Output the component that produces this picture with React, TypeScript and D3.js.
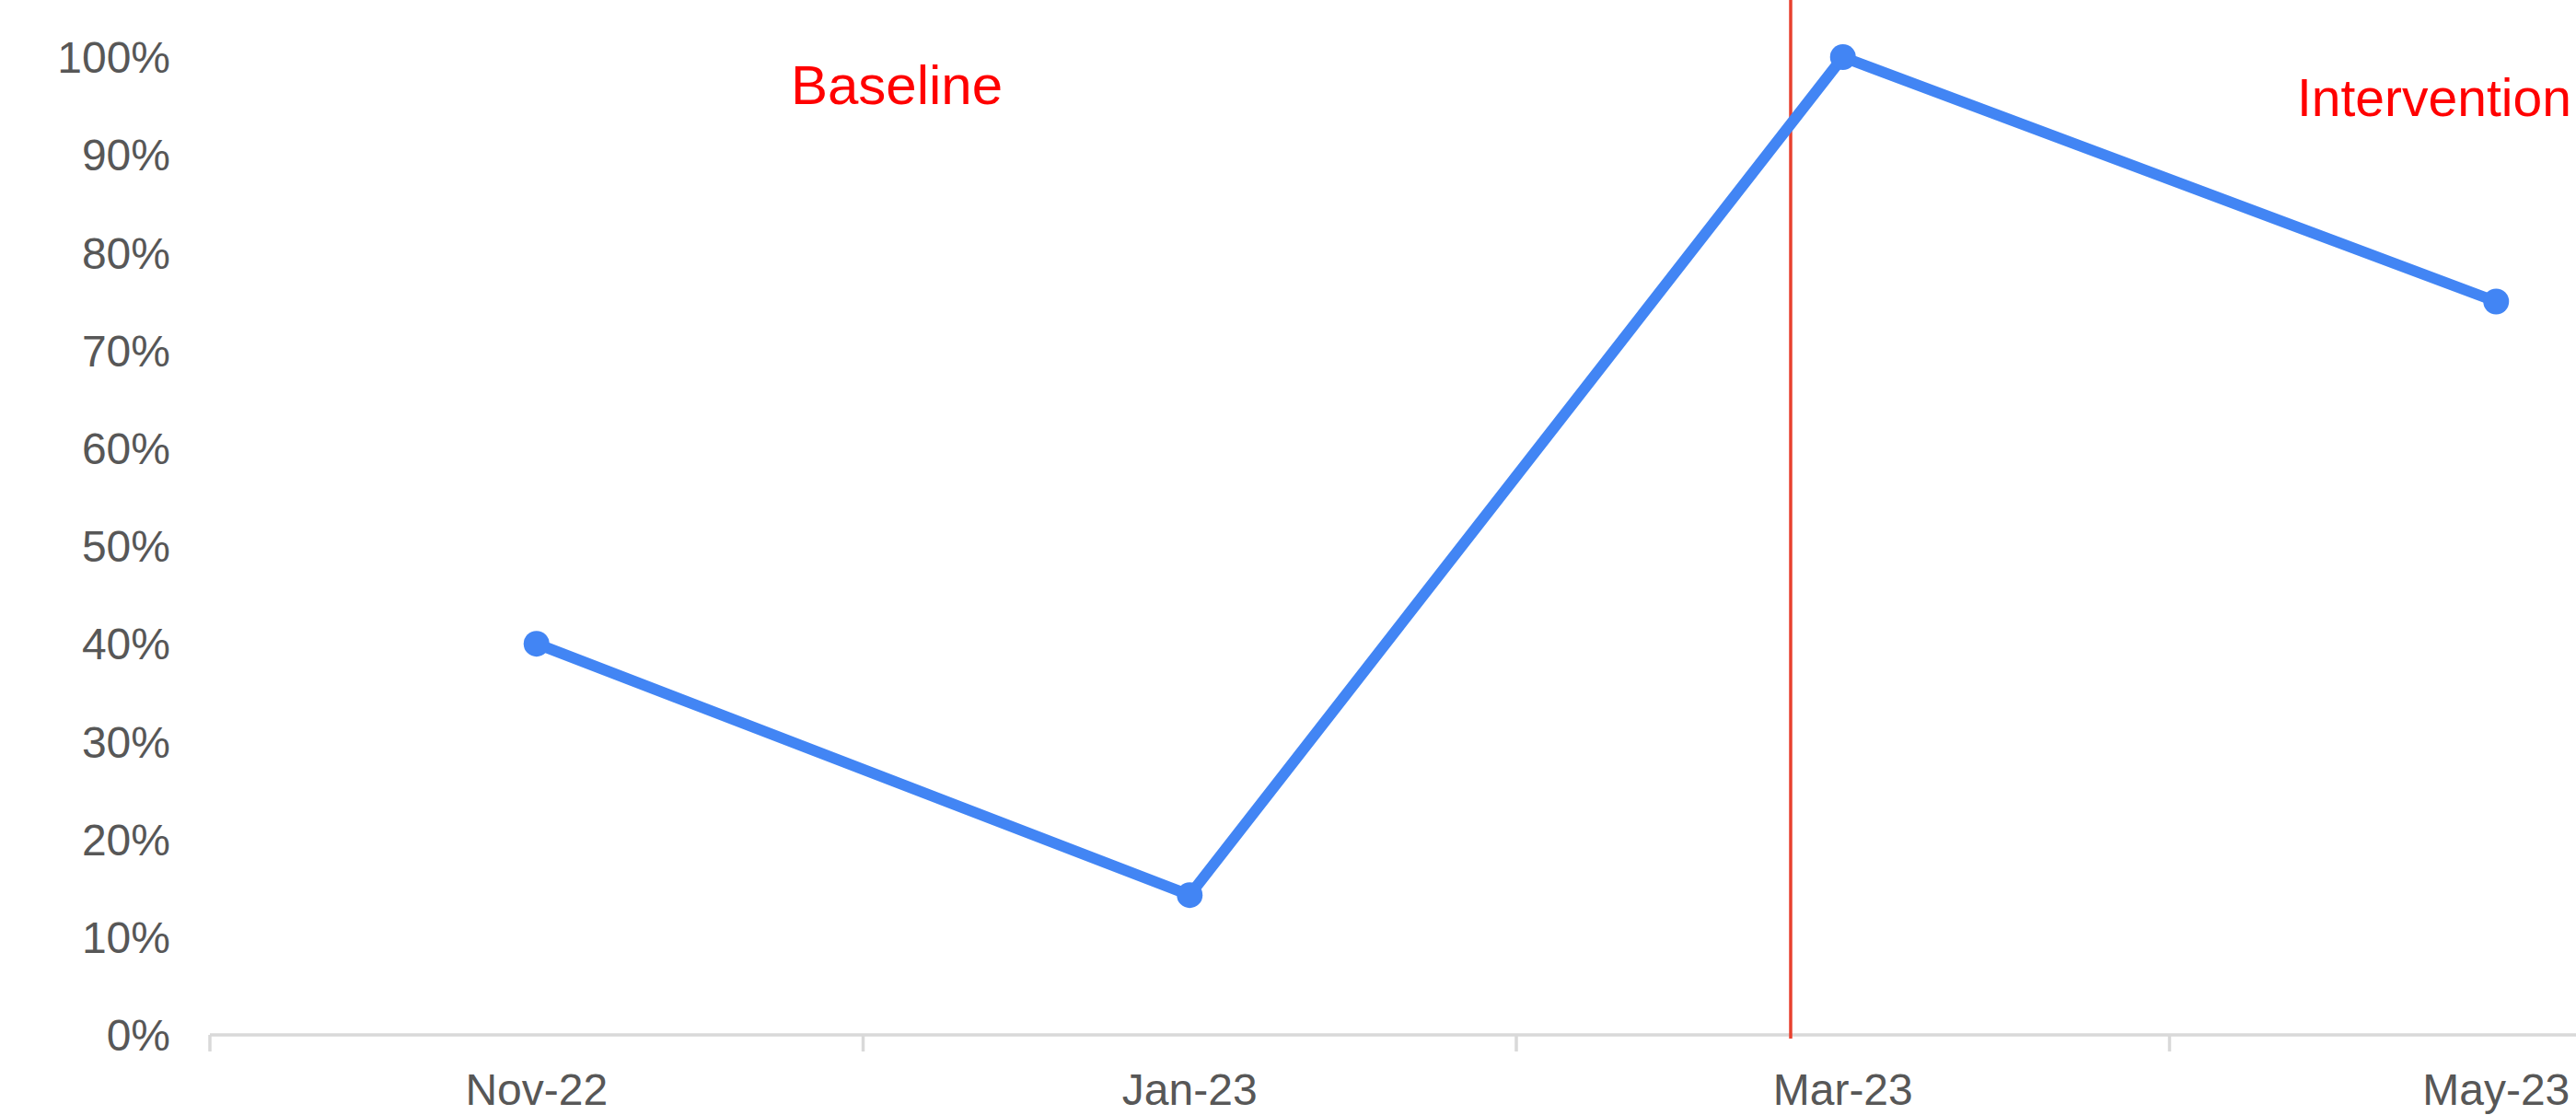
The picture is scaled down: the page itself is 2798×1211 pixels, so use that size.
import React from "react";
import * as d3 from "d3";

// Survey months and the share of cases meeting the standard in each
const months = ["Nov-22", "Jan-23", "Mar-23", "May-23"];
const compliance = [0.4, 0.143, 1.0, 0.75];
const yTicks = [0, 0.1, 0.2, 0.3, 0.4, 0.5, 0.6, 0.7, 0.8, 0.9, 1.0];

// Phase change sits just before the Mar-23 point (in month-index units)
const phaseChangeAt = 1.92;
const phaseLabels = [
  { text: "Baseline", x: 974, y: 113, anchor: "middle", size: 60 },
  { text: "Intervention", x: 2495, y: 126, anchor: "start", size: 57 },
];

const W = 2798;
const H = 1211;
const plot = { left: 228, right: 3066, top: 62, bottom: 1124 };

const FONT = "'Liberation Sans', Arial, sans-serif";
const AXIS_TEXT = "#575757";
const AXIS_LINE = "#d9d9d9";
const LINE_BLUE = "#4285f4";
const PHASE_RED = "#e8412f";

export default function App() {
  const x = d3.scaleBand<string>().domain(months).range([plot.left, plot.right]).paddingInner(0).paddingOuter(0);
  const bw = x.bandwidth();
  const cx = (m: string) => (x(m) as number) + bw / 2;
  const indexX = d3
    .scaleLinear()
    .domain([0, months.length - 1])
    .range([cx(months[0]), cx(months[months.length - 1])]);
  const y = d3.scaleLinear().domain([0, 1]).range([plot.bottom, plot.top]);
  const fmt = d3.format(".0%");

  const line = d3
    .line<number>()
    .x((_, i) => cx(months[i]))
    .y((d) => y(d));

  const boundaries = months.map((m) => x(m) as number);
  const phaseX = indexX(phaseChangeAt);

  return (
    <svg
      width={W}
      height={H}
      style={{ position: "absolute", left: 0, top: 0, background: "#fff", display: "block" }}
    >
      <rect x={0} y={0} width={W} height={H} fill="#fff" />

      {/* y tick labels */}
      {yTicks.map((t) => (
        <text
          key={t}
          x={185}
          y={y(t)}
          dy="0.36em"
          textAnchor="end"
          fontFamily={FONT}
          fontSize={48}
          fill={AXIS_TEXT}
        >
          {fmt(t)}
        </text>
      ))}

      {/* x axis */}
      <line x1={plot.left} x2={plot.right} y1={plot.bottom} y2={plot.bottom} stroke={AXIS_LINE} strokeWidth={3.5} />
      {boundaries.map((b, i) => (
        <line key={i} x1={b} x2={b} y1={plot.bottom} y2={plot.bottom + 18} stroke={AXIS_LINE} strokeWidth={3.5} />
      ))}
      {months.map((m) => (
        <text key={m} x={cx(m)} y={1200} textAnchor="middle" fontFamily={FONT} fontSize={48} fill={AXIS_TEXT}>
          {m}
        </text>
      ))}

      {/* phase change line */}
      <line x1={phaseX} x2={phaseX} y1={0} y2={plot.bottom + 4} stroke={PHASE_RED} strokeWidth={3.5} />

      {/* series */}
      <path d={line(compliance) || ""} fill="none" stroke={LINE_BLUE} strokeWidth={12} strokeLinejoin="round" />
      {compliance.map((v, i) => (
        <circle key={i} cx={cx(months[i])} cy={y(v)} r={14} fill={LINE_BLUE} />
      ))}

      {/* phase labels */}
      {phaseLabels.map((p) => (
        <text
          key={p.text}
          x={p.x}
          y={p.y}
          textAnchor={p.anchor as any}
          fontFamily={FONT}
          fontSize={p.size}
          fill="#ff0000"
        >
          {p.text}
        </text>
      ))}
    </svg>
  );
}
